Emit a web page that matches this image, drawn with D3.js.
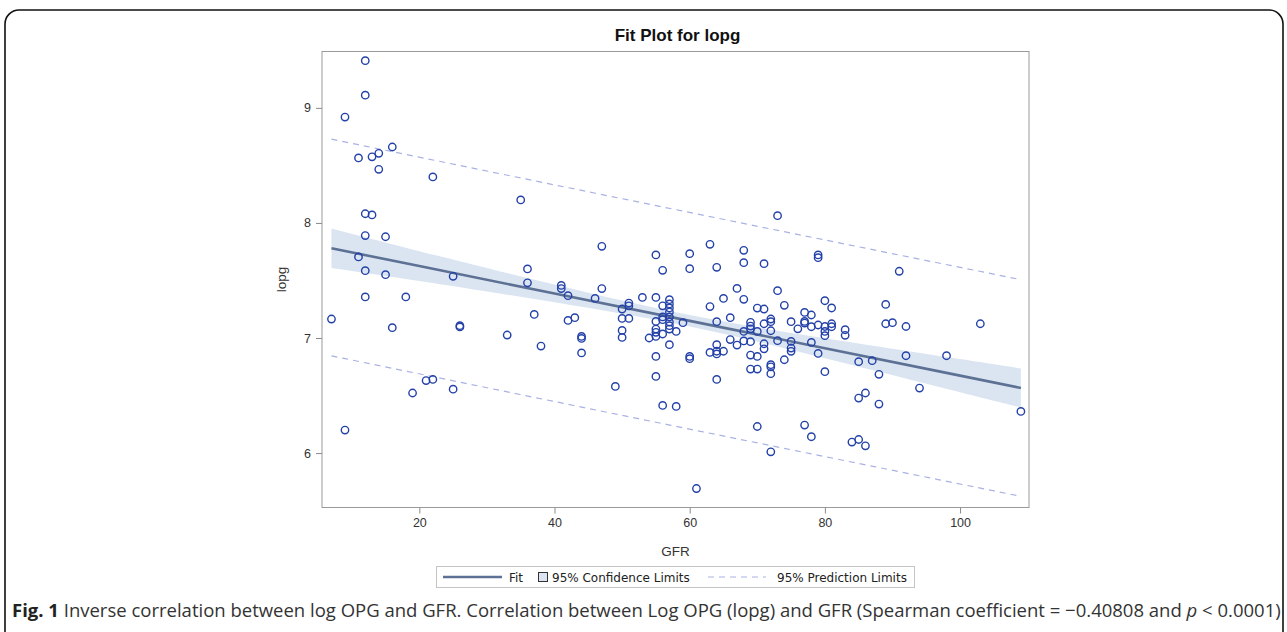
<!DOCTYPE html>
<html>
<head>
<meta charset="utf-8">
<script src="https://cdn.jsdelivr.net/npm/d3@7"></script>
<style>
  html, body { margin: 0; padding: 0; background: #fff; }
  svg { display: block; }
</style>
</head>
<body>
<svg id="chart" width="1287" height="632"></svg>
<script>
// ---------------- DATA ----------------
const gfr = [
  12,12,9,11,13,14,16,14,22,12,13,12,15,11,12,15,25,12,18,7,16,26,26,21,22,19,25,9,
  35,36,36,41,41,33,37,38,42,47,46,47,42,43,44,44,44,49,
  50,50,50,50,51,51,51,53,54,
  55,55,55,55,55,55,55,55,
  56,56,56,56,56,56,
  57,57,57,57,57,57,57,57,57,58,58,59,
  60,60,60,60,61,63,63,63,
  64,64,64,64,64,64,65,65,66,66,67,67,
  68,68,68,68,68,69,69,69,69,69,69,
  70,70,70,70,70,71,71,71,71,71,
  72,72,72,72,72,72,72,73,73,73,74,74,
  75,75,75,75,76,77,77,77,77,78,78,78,78,
  79,79,79,79,80,80,80,80,80,81,81,81,83,83,84,
  85,85,85,86,86,87,88,88,89,89,90,91,92,92,94,98,103,109
];
const lopg = [
  9.41,9.11,8.92,8.565,8.575,8.605,8.66,8.466,8.40,8.08,8.07,7.89,7.88,7.705,7.585,7.55,7.536,7.357,7.357,7.165,7.09,7.107,7.096,6.63,6.64,6.522,6.555,6.20,
  8.20,7.60,7.48,7.457,7.43,7.026,7.205,6.93,7.368,7.797,7.344,7.43,7.153,7.177,7.014,6.996,6.87,6.579,
  7.252,7.17,7.066,7.005,7.304,7.28,7.17,7.353,7.0,
  7.722,7.353,7.144,7.078,7.049,7.014,6.84,6.666,
  7.588,7.28,7.183,7.159,7.035,6.414,
  7.333,7.296,7.261,7.226,7.183,7.139,7.107,7.078,6.942,7.057,6.405,7.133,
  7.733,7.603,6.84,6.82,5.692,7.814,7.273,6.875,
  7.614,7.142,6.942,6.885,6.862,6.64,7.344,6.885,7.177,6.986,7.431,6.939,
  7.762,7.655,7.336,7.057,6.975,7.136,7.104,7.08,6.968,6.852,6.73,
  7.26,7.057,6.84,6.73,6.231,7.646,7.252,7.124,6.95,6.906,
  7.165,7.142,7.063,6.768,6.75,6.69,6.011,8.063,7.411,6.977,7.284,6.811,
  7.142,6.97,6.913,6.884,7.08,7.222,7.144,7.13,6.243,7.2,7.098,6.962,6.142,
  7.722,7.698,7.113,6.866,7.324,7.10,7.057,7.02,6.707,7.261,7.124,7.098,7.072,7.023,6.096,
  6.794,6.478,6.118,6.522,6.063,6.803,6.684,6.426,7.292,7.124,7.133,7.58,7.10,6.846,6.565,6.846,7.124,6.362
];

const fitX     = [7, 20, 40, 60, 80, 100, 109];
const fitY     = [7.780, 7.625, 7.387, 7.149, 6.911, 6.673, 6.566];
const uclmY    = [7.952, 7.755, 7.464, 7.199, 6.998, 6.817, 6.736];
const lclmY    = [7.608, 7.495, 7.310, 7.099, 6.824, 6.529, 6.396];
const predX    = [7, 58, 109];
const uclY     = [8.728, 8.115, 7.507];
const lclY     = [6.845, 6.232, 5.624];

const xTicks = [20, 40, 60, 80, 100];
const yTicks = [6, 7, 8, 9];

const titleText = "Fit Plot for lopg";
const xLabel = "GFR";
const yLabel = "lopg";
const legendItems = ["Fit", "95% Confidence Limits", "95% Prediction Limits"];

// ---------------- DRAW ----------------
const svg = d3.select("#chart");

// outer rounded border
svg.append("rect")
  .attr("x", 5).attr("y", 10).attr("width", 1278).attr("height", 660)
  .attr("rx", 14).attr("ry", 14)
  .attr("fill", "none").attr("stroke", "#111").attr("stroke-width", 1.6);

const plot = { left: 322, right: 1029, top: 51.5, bottom: 507.5 };

const x = d3.scaleLinear().domain([5.6, 110.2]).range([plot.left, plot.right]);
const y = d3.scaleLinear().domain([5.527, 9.49]).range([plot.bottom, plot.top]);

const font = "'Liberation Sans', Arial, sans-serif";
const legFont = "'DejaVu Sans', sans-serif";

// title
svg.append("text")
  .attr("x", (plot.left + plot.right) / 2 + 2).attr("y", 41)
  .attr("text-anchor", "middle")
  .attr("font-family", font).attr("font-size", 17).attr("font-weight", "bold")
  .attr("fill", "#111")
  .text(titleText);

const g = svg.append("g");

svg.append("clipPath").attr("id", "clip")
  .append("rect").attr("x", plot.left).attr("y", plot.top)
  .attr("width", plot.right - plot.left).attr("height", plot.bottom - plot.top);

const inner = g.append("g").attr("clip-path", "url(#clip)");

// confidence band
const bandData = fitX.map((v, i) => ({ x: v, lo: lclmY[i], hi: uclmY[i] }));
inner.append("path")
  .datum(bandData)
  .attr("fill", "#dbe5f2")
  .attr("stroke", "none")
  .attr("d", d3.area().curve(d3.curveNatural)
    .x(d => x(d.x)).y0(d => y(d.lo)).y1(d => y(d.hi)));

// fit line
const fitData = fitX.map((v, i) => ({ x: v, y: fitY[i] }));
inner.append("path")
  .datum(fitData)
  .attr("fill", "none")
  .attr("stroke", "#5d7194")
  .attr("stroke-width", 2.6)
  .attr("d", d3.line().x(d => x(d.x)).y(d => y(d.y)));

// prediction limits
[uclY, lclY].forEach(arr => {
  const data = predX.map((v, i) => ({ x: v, y: arr[i] }));
  inner.append("path")
    .datum(data)
    .attr("fill", "none")
    .attr("stroke", "#a9b2e2")
    .attr("stroke-width", 1.2)
    .attr("stroke-dasharray", "6,5")
    .attr("d", d3.line().curve(d3.curveNatural).x(d => x(d.x)).y(d => y(d.y)));
});

// points
const pts = gfr.map((v, i) => ({ x: v, y: lopg[i] }));
inner.selectAll("circle.pt")
  .data(pts)
  .enter().append("circle")
  .attr("class", "pt")
  .attr("cx", d => x(d.x))
  .attr("cy", d => y(d.y))
  .attr("r", 3.7)
  .attr("fill", "none")
  .attr("stroke", "#2341a8")
  .attr("stroke-width", 1.4);

// frame
g.append("rect")
  .attr("x", plot.left).attr("y", plot.top)
  .attr("width", plot.right - plot.left).attr("height", plot.bottom - plot.top)
  .attr("fill", "none").attr("stroke", "#9a9a9a").attr("stroke-width", 1);

// axes
const xAxis = g.append("g")
  .attr("transform", `translate(0,${plot.bottom})`)
  .call(d3.axisBottom(x).tickValues(xTicks).tickFormat(d3.format("d"))
    .tickSize(6).tickPadding(5).tickSizeOuter(0));
const yAxis = g.append("g")
  .attr("transform", `translate(${plot.left},0)`)
  .call(d3.axisLeft(y).tickValues(yTicks).tickFormat(d3.format("d"))
    .tickSize(6).tickPadding(5).tickSizeOuter(0));
[xAxis, yAxis].forEach(a => {
  a.select(".domain").remove();
  a.selectAll(".tick line").attr("stroke", "#8a8a8a");
  a.selectAll(".tick text")
    .attr("font-family", font).attr("font-size", 12.5).attr("fill", "#333");
});

// axis labels
svg.append("text")
  .attr("x", (plot.left + plot.right) / 2).attr("y", 556)
  .attr("text-anchor", "middle")
  .attr("font-family", font).attr("font-size", 13.5).attr("fill", "#333")
  .text(xLabel);
svg.append("text")
  .attr("transform", `translate(286,${(plot.top + plot.bottom) / 2}) rotate(-90)`)
  .attr("text-anchor", "middle")
  .attr("font-family", font).attr("font-size", 13.5).attr("fill", "#333")
  .text(yLabel);

// legend
const lg = svg.append("g");
lg.append("rect")
  .attr("x", 436.5).attr("y", 566.5).attr("width", 478).attr("height", 21)
  .attr("fill", "#fff").attr("stroke", "#c4c4c4").attr("stroke-width", 1);
lg.append("line")
  .attr("x1", 443).attr("x2", 502).attr("y1", 577).attr("y2", 577)
  .attr("stroke", "#5d7194").attr("stroke-width", 2.6);
lg.append("text")
  .attr("x", 509).attr("y", 581.5)
  .attr("font-family", legFont).attr("font-size", 12).attr("fill", "#222")
  .text(legendItems[0]);
lg.append("rect")
  .attr("x", 538.5).attr("y", 572.5).attr("width", 9).attr("height", 9)
  .attr("fill", "#dbe5f2").attr("stroke", "#333").attr("stroke-width", 1);
lg.append("text")
  .attr("x", 552).attr("y", 581.5)
  .attr("font-family", legFont).attr("font-size", 12).attr("fill", "#222")
  .text(legendItems[1]);
lg.append("line")
  .attr("x1", 708).attr("x2", 766).attr("y1", 577).attr("y2", 577)
  .attr("stroke", "#a9b2e2").attr("stroke-width", 1.2).attr("stroke-dasharray", "6,5");
lg.append("text")
  .attr("x", 777).attr("y", 581.5)
  .attr("font-family", legFont).attr("font-size", 12).attr("fill", "#222")
  .text(legendItems[2]);

// caption
const cap = svg.append("text")
  .attr("x", 12).attr("y", 617)
  .attr("font-family", "'Open Sans', sans-serif").attr("font-size", 18.5).attr("fill", "#333");
cap.append("tspan").attr("font-weight", "bold").attr("fill", "#222").text("Fig. 1");
cap.append("tspan").text(" Inverse correlation between log OPG and GFR. Correlation between Log OPG (lopg) and GFR (Spearman coefficient = \u22120.40808 and ");
cap.append("tspan").attr("font-style", "italic").text("p");
cap.append("tspan").text(" < 0.0001)");
</script>
</body>
</html>
